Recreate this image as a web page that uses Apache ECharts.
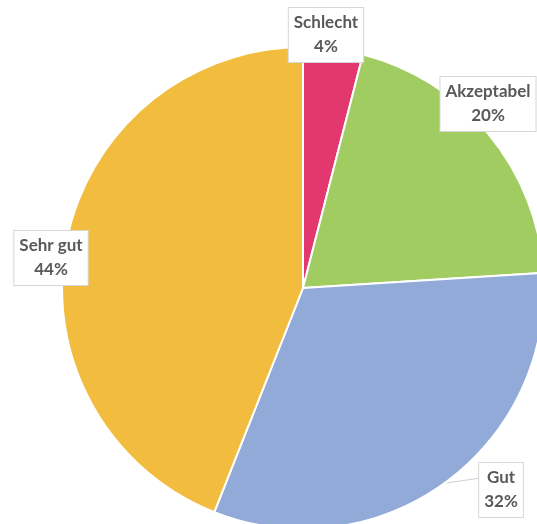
<!DOCTYPE html>
<html>
<head>
<meta charset="utf-8">
<script src="https://cdn.jsdelivr.net/npm/echarts@6/dist/echarts.min.js"></script>
<style>
  html, body { margin: 0; padding: 0; background: #fff; }
  #chart { width: 537px; height: 524px; }
</style>
</head>
<body>
<div id="chart"></div>
<script>
const categories = ['Schlecht', 'Akzeptabel', 'Gut', 'Sehr gut'];
const values = [4, 20, 32, 44];
const colors = ['#E2376F', '#A0CC62', '#91AAD8', '#F2BD3E'];

// where each callout box sits (center), same order as categories
const labelSpots = [
  { x: 326, y: 35, line: null },
  { x: 488, y: 104, line: [[472, 129], [458, 140]] },
  { x: 501, y: 490, line: [[481, 478], [446, 483]] },
  { x: 51, y: 258, line: null }
];

// the pie's view box is made bigger than the canvas so echarts
// doesn't squeeze the outside labels near the edges
const pad = 400;

const chart = echarts.init(document.getElementById('chart'));

chart.setOption({
  animation: false,
  series: [{
    type: 'pie',
    left: -pad,
    top: -pad,
    width: 537 + 2 * pad,
    height: 524 + 2 * pad,
    center: [303 + pad, 288 + pad],
    radius: 241,
    startAngle: 90,
    clockwise: true,
    itemStyle: { borderColor: '#fff', borderWidth: 2 },
    label: {
      show: true,
      position: 'outside',
      formatter: '{b}\n{d}%',
      fontFamily: 'Lato',
      fontWeight: 'bold',
      fontSize: 17,
      lineHeight: 24,
      color: '#595959',
      backgroundColor: '#fff',
      borderColor: '#d6d6d6',
      borderWidth: 1,
      padding: [3, 5]
    },
    labelLine: { show: true, lineStyle: { color: '#d0d0d0', width: 1 } },
    labelLayout: function (params) {
      const s = labelSpots[params.dataIndex];
      const out = { x: s.x, y: s.y, align: 'center', verticalAlign: 'middle', moveOverlap: false };
      if (s.line) out.labelLinePoints = [s.line[0], s.line[1], s.line[1]];
      return out;
    },
    data: categories.map((name, i) => ({
      name: name,
      value: values[i],
      itemStyle: { color: colors[i] },
      labelLine: { show: labelSpots[i].line !== null }
    }))
  }]
});
</script>
</body>
</html>
